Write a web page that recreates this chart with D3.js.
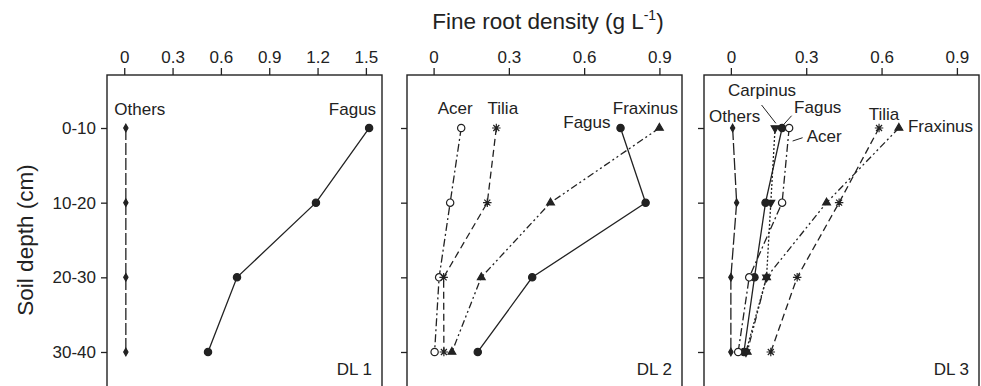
<!DOCTYPE html>
<html>
<head>
<meta charset="utf-8">
<script src="https://cdn.jsdelivr.net/npm/d3@7"></script>
<style>
  body { margin: 0; background: #fff; }
  svg text { font-family: "Liberation Sans", Arial, sans-serif; fill: #222; }
  .axis path.domain { display: none; }
  .axis line { stroke: #222; stroke-width: 1.3; }
  .axis text { font-size: 17px; fill: #222; }
</style>
</head>
<body>
<div id="chart"></div>
<script>
// soil depth classes (y axis) and x tick labels
var depths = ["0-10", "10-20", "20-30", "30-40"];
var ticksDL1 = [0, 0.3, 0.6, 0.9, 1.2, 1.5];
var ticksDL23 = [0, 0.3, 0.6, 0.9];
var plotNames = ["DL 1", "DL 2", "DL 3"];

// fine root density (g/L) per depth class
var dl1Others   = [0.01, 0.01, 0.01, 0.01];
var dl1Fagus    = [1.52, 1.19, 0.70, 0.52];

var dl2Acer     = [0.11, 0.066, 0.022, 0.004];
var dl2Tilia    = [0.25, 0.214, 0.04, 0.041];
var dl2Fraxinus = [0.90, 0.466, 0.19, 0.073];
var dl2Fagus    = [0.745, 0.845, 0.393, 0.176];

var dl3Others   = [0.007, 0.023, 0.0, 0.0];
var dl3Carpinus = [0.176, 0.159, 0.142, 0.06];
var dl3Fagus    = [0.204, 0.138, 0.094, 0.052];
var dl3Acer     = [0.232, 0.204, 0.073, 0.029];
var dl3Tilia    = [0.59, 0.431, 0.264, 0.159];
var dl3Fraxinus = [0.669, 0.381, 0.142, 0.065];

// ---- layout ----
var width = 981, height = 386;
var panelTop = 75, panelW = 275, panelH = 330;
var panelLeft = [107, 407, 704];

// custom 8-arm asterisk
var asterisk = {
  draw: function(ctx, size) {
    var r = Math.sqrt(size) / 2;
    var d = r * Math.SQRT1_2;
    ctx.moveTo(-r, 0); ctx.lineTo(r, 0);
    ctx.moveTo(0, -r); ctx.lineTo(0, r);
    ctx.moveTo(-d, -d); ctx.lineTo(d, d);
    ctx.moveTo(-d, d); ctx.lineTo(d, -d);
  }
};

// line / marker style per species
var styles = {
  Others:   {dash: "12,3",            symbol: d3.symbolDiamond,  size: 16, fill: "#222", rot: 0},
  Fagus:    {dash: null,              symbol: d3.symbolCircle,   size: 42, fill: "#222", rot: 0},
  Acer:     {dash: "8,3,2,3",         symbol: d3.symbolCircle,   size: 42, fill: "#fff", rot: 0},
  Tilia:    {dash: "7,4",             symbol: asterisk,          size: 72, fill: "none", rot: 0},
  Fraxinus: {dash: "7,3,2,3,2,3",     symbol: d3.symbolTriangle, size: 26, fill: "#222", rot: 0},
  Carpinus: {dash: "2,2",             symbol: d3.symbolTriangle, size: 26, fill: "#222", rot: 180}
};

var plots = [
  {name: plotNames[0], domain: [-0.107, 1.6], ticks: ticksDL1, yLabels: true,
   series: [["Others", dl1Others], ["Fagus", dl1Fagus]],
   labels: [
     {sp: "Others", dx: 14, dy: -13, anchor: "middle"},
     {sp: "Fagus", dx: 7, dy: -13, anchor: "end"}
   ]},
  {name: plotNames[1], domain: [-0.106, 0.99], ticks: ticksDL23, yLabels: false,
   series: [["Acer", dl2Acer], ["Tilia", dl2Tilia], ["Fraxinus", dl2Fraxinus], ["Fagus", dl2Fagus]],
   labels: [
     {sp: "Acer", dx: -6, dy: -14, anchor: "middle"},
     {sp: "Tilia", dx: 6.5, dy: -14, anchor: "middle"},
     {sp: "Fraxinus", dx: -14, dy: -14, anchor: "middle"},
     {sp: "Fagus", dx: -10, dy: 0, anchor: "end"}
   ]},
  {name: plotNames[2], domain: [-0.107, 0.988], ticks: ticksDL23, yLabels: false,
   series: [["Others", dl3Others], ["Carpinus", dl3Carpinus], ["Fagus", dl3Fagus],
            ["Acer", dl3Acer], ["Tilia", dl3Tilia], ["Fraxinus", dl3Fraxinus]],
   labels: [
     {sp: "Others", dx: 2, dy: -6, anchor: "middle"},
     {sp: "Carpinus", dx: -13, dy: -32, anchor: "middle", lead: [-13.5, -23, 0.8, -4.7]},
     {sp: "Fagus", dx: 12, dy: -15, anchor: "start", lead: [9.5, -12.3, 1.8, -3.7]},
     {sp: "Acer", dx: 17.5, dy: 14, anchor: "start", lead: [3.5, 13, 13.5, 9.7]},
     {sp: "Tilia", dx: 5, dy: -8, anchor: "middle"},
     {sp: "Fraxinus", dx: 9, dy: 3.7, anchor: "start"}
   ]}
];

var svg = d3.select("#chart").append("svg")
    .attr("width", width)
    .attr("height", height);

var y = d3.scalePoint()
    .domain(depths)
    .range([0, panelH])
    .padding(0.71);

plots.forEach(function(p, i) {
  var g = svg.append("g")
      .attr("transform", "translate(" + panelLeft[i] + "," + panelTop + ")");

  var x = d3.scaleLinear().domain(p.domain).range([0, panelW]);

  // axes
  g.append("g")
      .attr("class", "axis")
      .call(d3.axisTop(x).tickValues(p.ticks).tickSize(7).tickPadding(5)
        .tickFormat(function(d) { return String(d); }));

  g.append("g")
      .attr("class", "axis")
      .call(d3.axisLeft(y).tickSize(6).tickPadding(5)
        .tickFormat(p.yLabels ? null : ""));

  // frame
  g.append("rect")
      .attr("width", panelW)
      .attr("height", panelH)
      .attr("fill", "none")
      .attr("stroke", "#222")
      .attr("stroke-width", 1.4);

  var line = d3.line()
      .x(function(d) { return x(d.v); })
      .y(function(d) { return y(d.depth); });

  p.series.forEach(function(s) {
    var st = styles[s[0]];
    var pts = s[1].map(function(v, j) { return {v: v, depth: depths[j]}; });

    g.append("path")
        .datum(pts)
        .attr("d", line)
        .attr("fill", "none")
        .attr("stroke", "#222")
        .attr("stroke-width", 1.3)
        .attr("stroke-dasharray", st.dash);

    g.selectAll(null)
        .data(pts)
      .enter().append("path")
        .attr("transform", function(d) {
          return "translate(" + x(d.v) + "," + y(d.depth) + ") rotate(" + st.rot + ")";
        })
        .attr("d", d3.symbol().type(st.symbol).size(st.size))
        .attr("fill", st.fill)
        .attr("stroke", "#222")
        .attr("stroke-width", 1.2);
  });

  // species labels next to the 0-10 cm point
  p.labels.forEach(function(l) {
    var vals = p.series.filter(function(s) { return s[0] === l.sp; })[0][1];
    var px = x(vals[0]), py = y(depths[0]);
    g.append("text")
        .attr("x", px + l.dx)
        .attr("y", py + l.dy)
        .attr("text-anchor", l.anchor)
        .style("font-size", "17px")
        .text(l.sp);
    if (l.lead) {
      g.append("line")
          .attr("x1", px + l.lead[0]).attr("y1", py + l.lead[1])
          .attr("x2", px + l.lead[2]).attr("y2", py + l.lead[3])
          .attr("stroke", "#222")
          .attr("stroke-width", 1);
    }
  });

  g.append("text")
      .attr("x", panelW - 10)
      .attr("y", 300)
      .attr("text-anchor", "end")
      .style("font-size", "17px")
      .text(p.name);
});

// axis titles
var title = svg.append("text")
    .attr("x", 548)
    .attr("y", 29)
    .attr("text-anchor", "middle")
    .style("font-size", "22.5px");
title.append("tspan").text("Fine root density (g L");
title.append("tspan").attr("dy", -9).style("font-size", "14px").text("-1");
title.append("tspan").attr("dy", 9).text(")");

svg.append("text")
    .attr("transform", "translate(33,240) rotate(-90)")
    .attr("text-anchor", "middle")
    .style("font-size", "22.5px")
    .text("Soil depth (cm)");
</script>
</body>
</html>
